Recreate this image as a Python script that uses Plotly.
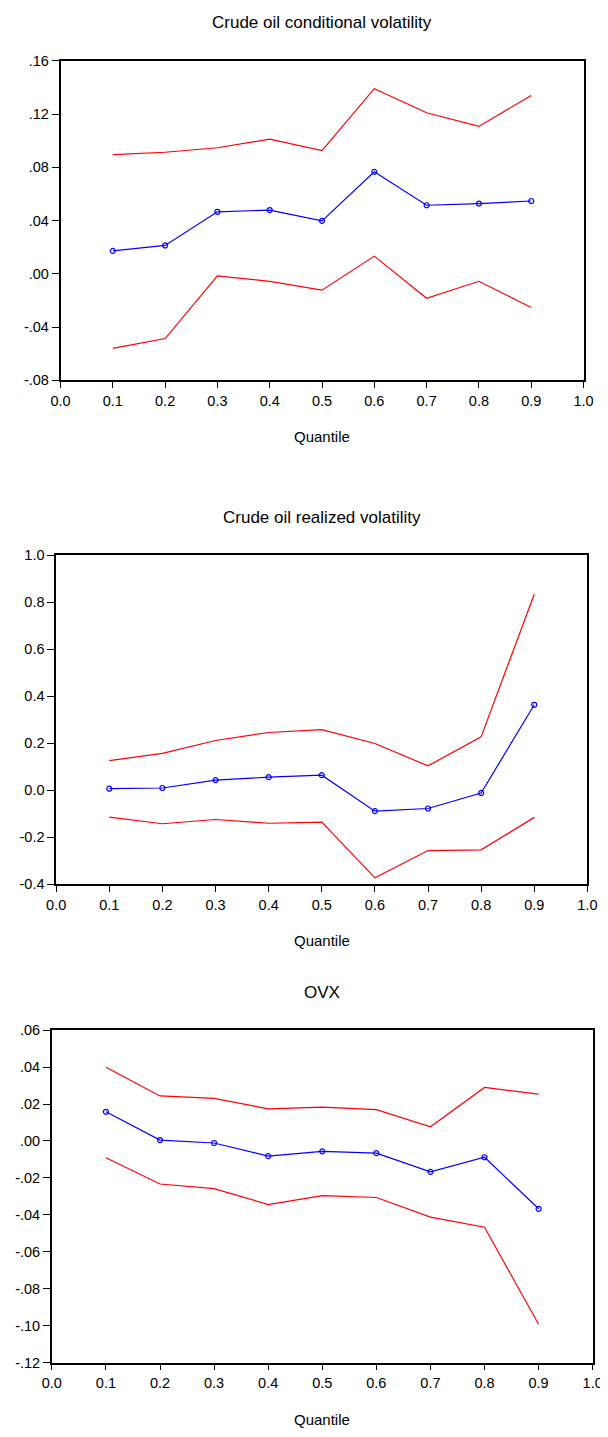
import plotly.graph_objects as go

# The page body has an 8px margin, so the figure is drawn 8px in from the window edge.
OFF = 8
W, H = 600, 1421

quantiles = [0.1, 0.2, 0.3, 0.4, 0.5, 0.6, 0.7, 0.8, 0.9]

# Panel 1: Crude oil conditional volatility
cv_est = [0.0172, 0.0213, 0.0466, 0.0479, 0.0398, 0.0766, 0.0515, 0.0528, 0.0547]
cv_up = [0.0896, 0.0913, 0.0947, 0.1011, 0.0925, 0.1391, 0.1210, 0.1107, 0.1340]
cv_lo = [-0.0560, -0.0486, -0.0015, -0.0056, -0.0123, 0.0133, -0.0184, -0.0056, -0.0253]

# Panel 2: Crude oil realized volatility
rv_est = [0.007, 0.010, 0.0435, 0.056, 0.0646, -0.0885, -0.0772, -0.0112, 0.3638]
rv_up = [0.126, 0.157, 0.212, 0.246, 0.258, 0.199, 0.104, 0.2275, 0.834]
rv_lo = [-0.114, -0.142, -0.124, -0.140, -0.135, -0.372, -0.256, -0.253, -0.115]

# Panel 3: OVX
ovx_est = [0.0158, 0.0005, -0.0011, -0.0082, -0.0056, -0.0066, -0.0167, -0.0088, -0.0367]
ovx_up = [0.0399, 0.0244, 0.0231, 0.0174, 0.0183, 0.0170, 0.0077, 0.0290, 0.0254]
ovx_lo = [-0.0091, -0.0233, -0.0258, -0.0344, -0.0296, -0.0306, -0.0412, -0.0467, -0.0992]

titles = ["Crude oil conditional volatility", "Crude oil realized volatility", "OVX"]

x_tickvals = [0.0, 0.1, 0.2, 0.3, 0.4, 0.5, 0.6, 0.7, 0.8, 0.9, 1.0]
x_ticktext = ["0.0", "0.1", "0.2", "0.3", "0.4", "0.5", "0.6", "0.7", "0.8", "0.9", "1.0"]

y1_vals = [0.16, 0.12, 0.08, 0.04, 0.00, -0.04, -0.08]
y1_text = [".16", ".12", ".08", ".04", ".00", "-.04", "-.08"]
y2_vals = [1.0, 0.8, 0.6, 0.4, 0.2, 0.0, -0.2, -0.4]
y2_text = ["1.0", "0.8", "0.6", "0.4", "0.2", "0.0", "-0.2", "-0.4"]
y3_vals = [0.06, 0.04, 0.02, 0.00, -0.02, -0.04, -0.06, -0.08, -0.10, -0.12]
y3_text = [".06", ".04", ".02", ".00", "-.02", "-.04", "-.06", "-.08", "-.10", "-.12"]

panels = [
    dict(est=cv_est, up=cv_up, lo=cv_lo, yv=y1_vals, yt=y1_text, yr=[-0.08, 0.16],
         box=(52, 593, 53.3, 376.5), title_y=15, qt_y=433),
    dict(est=rv_est, up=rv_up, lo=rv_lo, yv=y2_vals, yt=y2_text, yr=[-0.4, 1.0],
         box=(47.5, 597, 553.3, 886.3), title_y=515, qt_y=943),
    dict(est=ovx_est, up=ovx_up, lo=ovx_lo, yv=y3_vals, yt=y3_text, yr=[-0.12, 0.06],
         box=(43, 602.5, 1033.7, 1370), title_y=996, qt_y=1427),
]


def px_x(v):
    return (v - OFF) / W


def px_y(v):
    return 1 - (v - OFF) / H


fig = go.Figure()
font_family = "Liberation Sans, Arial, sans-serif"
annotations = []
layout_axes = {}

for i, p in enumerate(panels, start=1):
    xa = "x" if i == 1 else f"x{i}"
    ya = "y" if i == 1 else f"y{i}"
    for series, color, mode in [(p["up"], "#ff0000", "lines"), (p["lo"], "#ff0000", "lines"),
                                (p["est"], "#0000ff", "lines+markers")]:
        fig.add_trace(go.Scatter(
            x=quantiles, y=series, mode=mode, xaxis=xa, yaxis=ya,
            line=dict(color=color, width=1.2),
            marker=dict(symbol="circle-open", size=5, color=color, line=dict(width=1.2)),
            showlegend=False, hoverinfo="skip"))
    x0, x1, y0, y1 = p["box"]
    common = dict(showgrid=False, zeroline=False, showline=True, linecolor="black",
                  linewidth=1.5, mirror=True, ticks="outside", ticklen=6, tickwidth=1,
                  tickcolor="black", tickfont=dict(family=font_family, size=14.5, color="black"))
    xkey = "xaxis" if i == 1 else f"xaxis{i}"
    ykey = "yaxis" if i == 1 else f"yaxis{i}"
    layout_axes[xkey] = dict(common, domain=[px_x(x0), min(px_x(x1), 1.0)], range=[0, 1],
                             tickvals=x_tickvals, ticktext=x_ticktext, anchor=ya)
    layout_axes[ykey] = dict(common, domain=[px_y(y1), px_y(y0)], range=p["yr"],
                             tickvals=p["yv"], ticktext=p["yt"], anchor=xa, ticklen=7)
    cx = px_x((x0 + x1) / 2)
    annotations.append(dict(text=titles[i - 1], x=cx, y=px_y(p["title_y"]), xref="paper",
                            yref="paper", showarrow=False, xanchor="center", yanchor="middle",
                            font=dict(family=font_family, size=17, color="black")))
    annotations.append(dict(text="Quantile", x=cx, y=px_y(p["qt_y"]), xref="paper",
                            yref="paper", showarrow=False, xanchor="center", yanchor="middle",
                            font=dict(family=font_family, size=15, color="black")))

fig.update_layout(width=W, height=H, margin=dict(l=0, r=0, t=0, b=0),
                  paper_bgcolor="white", plot_bgcolor="white",
                  annotations=annotations, **layout_axes)

fig.write_html("out.html")
